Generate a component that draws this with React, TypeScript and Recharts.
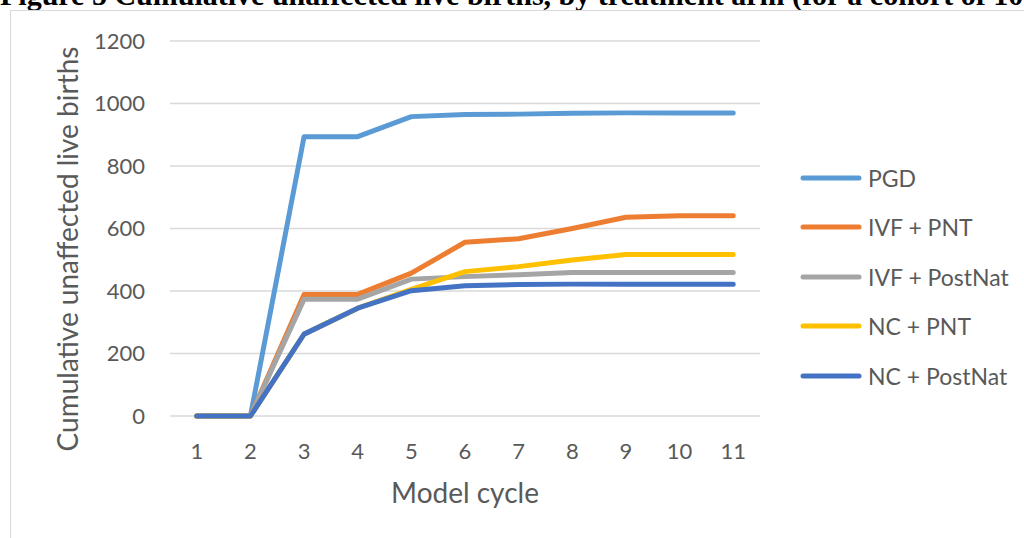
import React from 'react';
import { LineChart, Line, XAxis, YAxis, CartesianGrid, Legend } from 'recharts';

const cycles = ['1', '2', '3', '4', '5', '6', '7', '8', '9', '10', '11'];
const pgd = [0, 0, 894, 894, 958, 965, 966, 969, 970, 970, 970];
const ivfPnt = [0, 0, 389, 389, 457, 556, 567, 600, 636, 641, 641];
const ivfPostNat = [0, 0, 374, 374, 438, 446, 452, 459, 459, 459, 459];
const ncPnt = [0, 0, 262, 345, 405, 462, 478, 499, 517, 517, 517];
const ncPostNat = [0, 0, 262, 345, 401, 417, 421, 422, 422, 422, 422];

const seriesNames = ['PGD', 'IVF + PNT', 'IVF + PostNat', 'NC + PNT', 'NC + PostNat'];
const seriesColors = ['#5B9BD5', '#ED7D31', '#A5A5A5', '#FFC000', '#4472C4'];
const seriesValues = [pgd, ivfPnt, ivfPostNat, ncPnt, ncPostNat];
const yTicks = [0, 200, 400, 600, 800, 1000, 1200];

const titleText = 'Figure 5  Cumulative unaffected live births, by treatment arm (for a cohort of 1000 women)';
const xTitle = 'Model cycle';
const yTitle = 'Cumulative unaffected live births';

const data = cycles.map((c, i) => {
  const row: Record<string, string | number> = { cycle: c };
  seriesValues.forEach((vals, k) => {
    row['s' + k] = vals[i];
  });
  return row;
});

const FONT = 'Lato, "Open Sans", sans-serif';
const TEXT = '#595959';

const renderLegend = (props: any) => {
  const payload = [...(props.payload || [])].sort(
    (a: any, b: any) => seriesNames.indexOf(a.value) - seriesNames.indexOf(b.value)
  );
  return (
    <div style={{ fontFamily: FONT, fontSize: 23, color: TEXT }}>
      {payload.map((p: any) => (
        <div key={p.value} style={{ height: 49.5, display: 'flex', alignItems: 'center' }}>
          <svg width={68} height={10} style={{ flex: 'none' }}>
            <line x1={3} y1={5} x2={59} y2={5} stroke={p.color} strokeWidth={5} strokeLinecap="round" />
          </svg>
          <span style={{ whiteSpace: 'nowrap' }}>{p.value}</span>
        </div>
      ))}
    </div>
  );
};

const YTitle = () => (
  <text
    x={78}
    y={249}
    transform="rotate(-90 78 249)"
    textAnchor="middle"
    fill={TEXT}
    style={{ fontFamily: FONT, fontSize: 28 }}
  >
    {yTitle}
  </text>
);

export default function App() {
  return (
    <div style={{ position: 'absolute', left: 0, top: 0, width: 1024, height: 538, overflow: 'hidden', background: '#fff' }}>
      <div
        style={{
          position: 'absolute',
          left: 0,
          top: -20,
          height: 30,
          lineHeight: '30px',
          fontFamily: '"Liberation Serif", "Times New Roman", serif',
          fontWeight: 'bold',
          fontSize: 30,
          color: '#000',
          whiteSpace: 'nowrap',
        }}
      >
        {titleText}
      </div>
      <div
        style={{
          position: 'absolute',
          left: 10,
          top: 10,
          width: 1100,
          height: 600,
          borderLeft: '1px solid #D9D9D9',
          borderTop: '1px solid #D9D9D9',
        }}
      />
      <div style={{ position: 'absolute', left: 0, top: 0 }}>
        <LineChart width={1024} height={538} data={data} margin={{ top: 41, right: 264, bottom: 0, left: 0 }}>
          <CartesianGrid vertical={false} stroke="#D9D9D9" strokeWidth={1.5} />
          <XAxis
            dataKey="cycle"
            height={122}
            padding={{ left: 26.8, right: 26.8 }}
            axisLine={false}
            tickLine={false}
            tickSize={0}
            tickMargin={27}
            tick={{ fill: TEXT, fontSize: 22, fontFamily: FONT }}
            interval={0}
            label={{ value: xTitle, position: 'insideBottom', offset: 35, fill: TEXT, fontSize: 28, fontFamily: FONT }}
          />
          <YAxis
            width={170}
            domain={[0, 1200]}
            ticks={yTicks}
            axisLine={false}
            tickLine={false}
            tickSize={0}
            tickMargin={25}
            tick={{ fill: TEXT, fontSize: 22, fontFamily: FONT }}
            label={{ content: () => <YTitle /> }}
          />
          <Legend
            layout="vertical"
            align="center"
            verticalAlign="middle"
            content={renderLegend}
            wrapperStyle={{ left: 800, top: 153, width: 224 }}
          />
          {seriesNames.map((name, k) => (
            <Line
              key={name}
              type="linear"
              dataKey={'s' + k}
              name={name}
              stroke={seriesColors[k]}
              strokeWidth={5}
              strokeLinejoin="round"
              strokeLinecap="round"
              dot={false}
              activeDot={false}
              isAnimationActive={false}
            />
          ))}
        </LineChart>
      </div>
    </div>
  );
}
